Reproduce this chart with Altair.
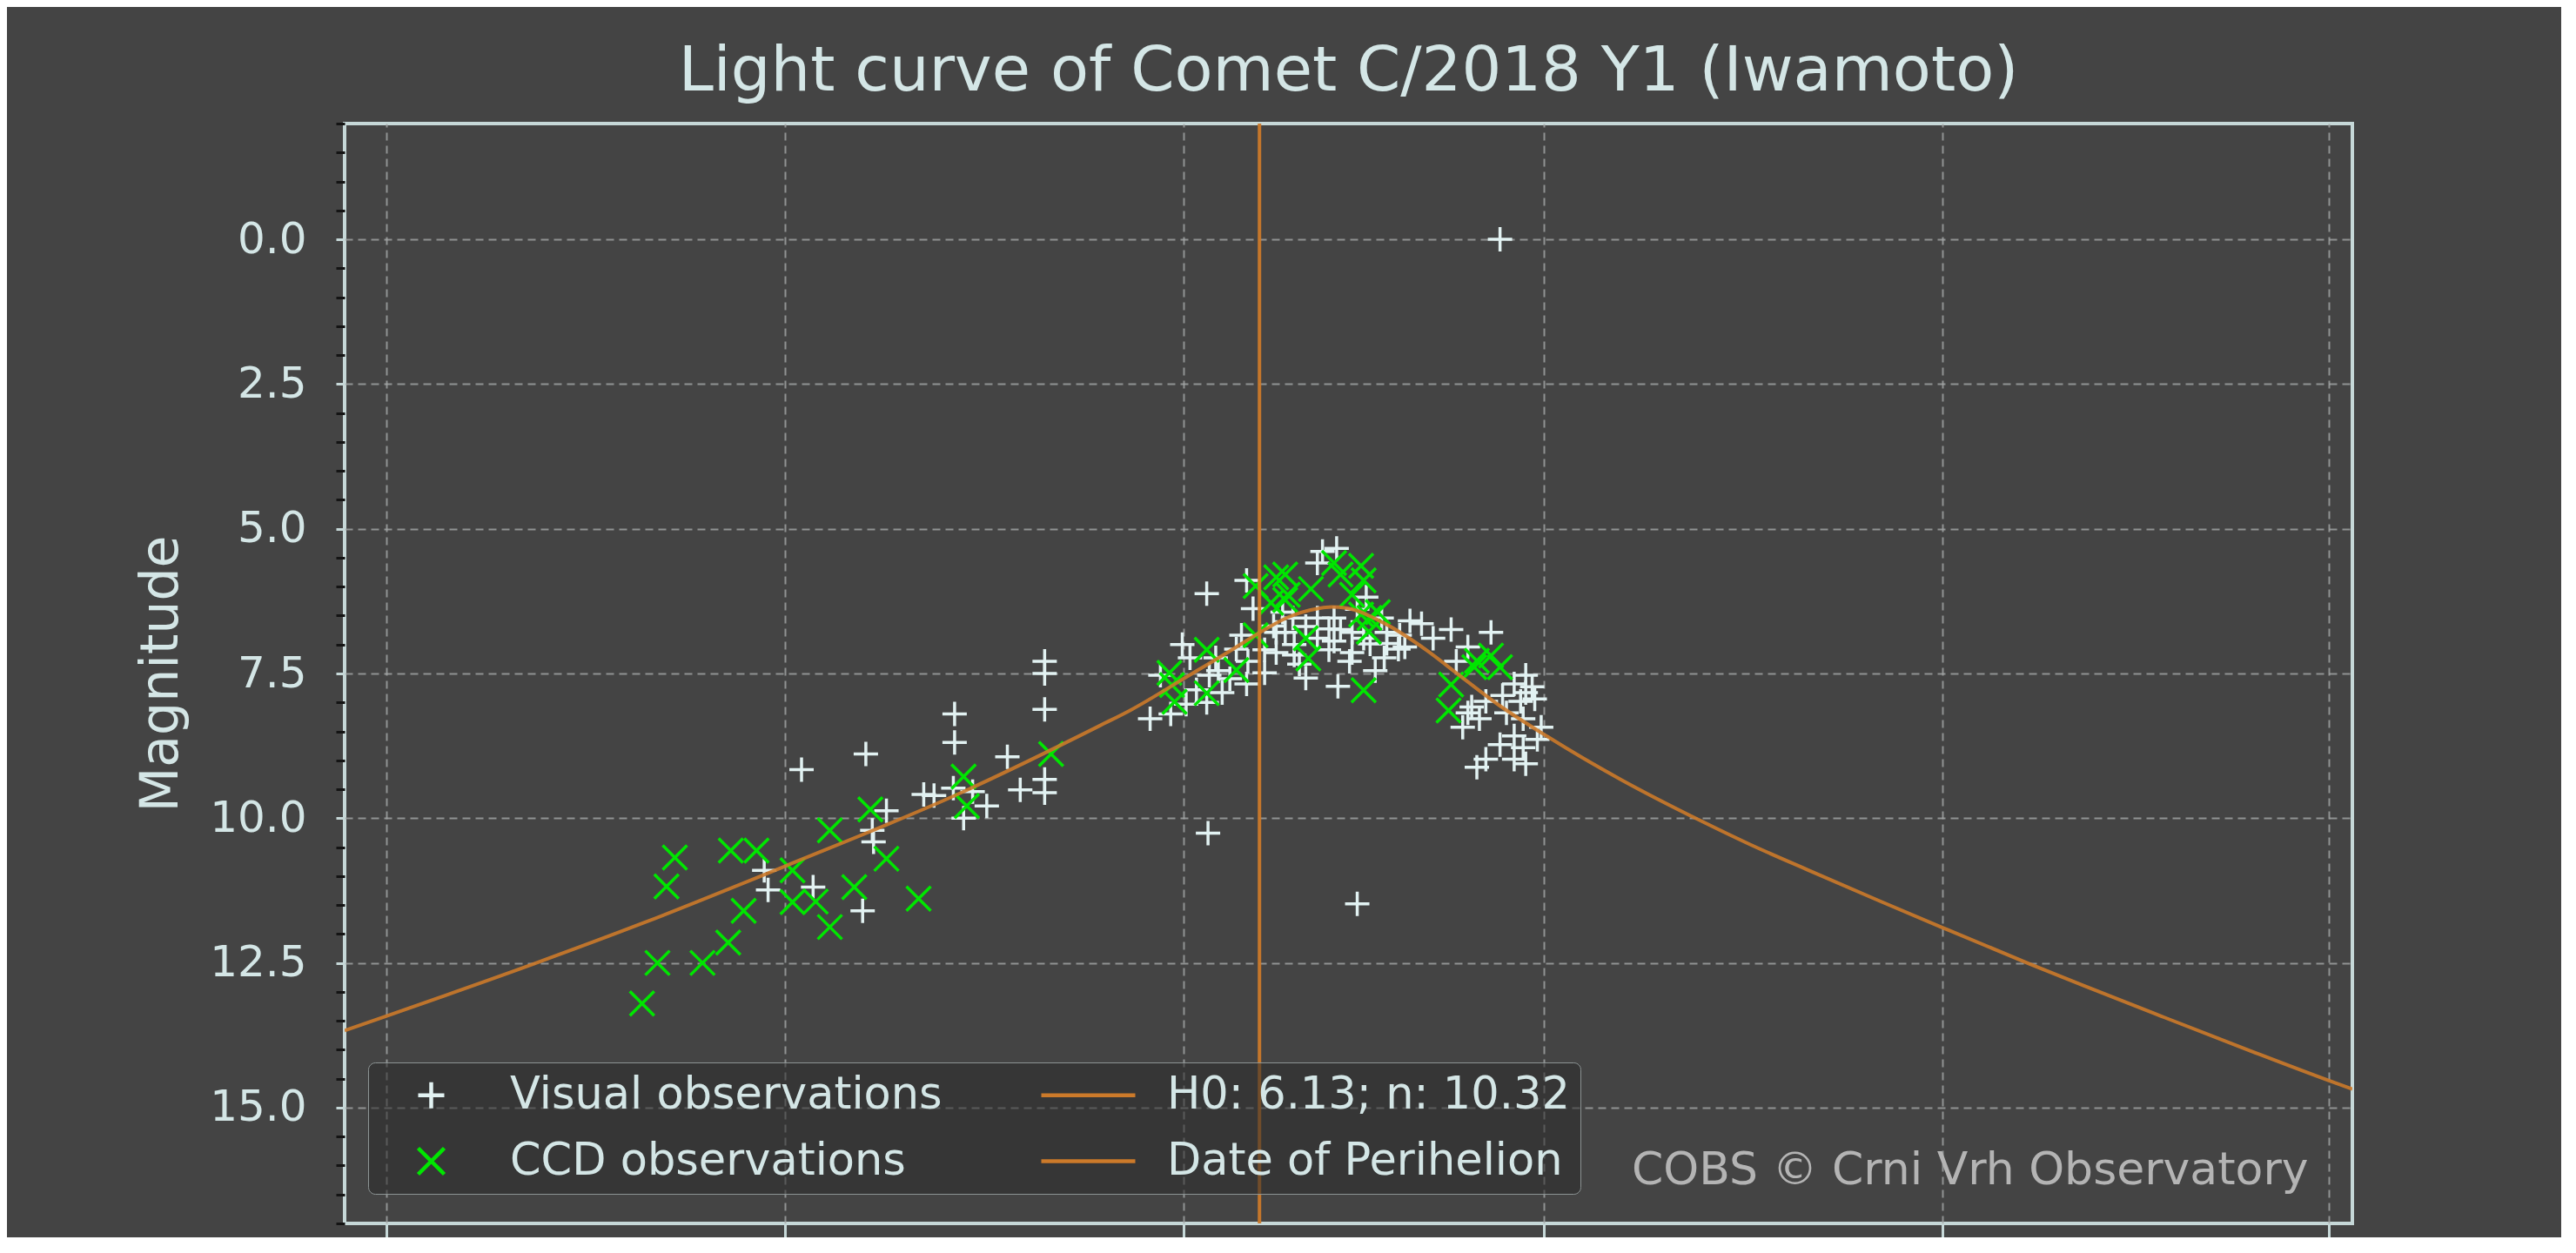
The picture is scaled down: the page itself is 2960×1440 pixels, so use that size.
import altair as alt
import pandas as pd

# ---------------- data ----------------
BASE = pd.Timestamp("2019-01-01")  # day offsets below are days after 2019-01-01

visual_day = [-1.6, -1.3, 1.3, 2.2, 6.05, 6.3, 6.8, 6.9, 7.9, 10.8, 11.6, 13.1, 13.2, 13.2,
              13.9, 14.6, 15.7, 17.3, 18.3, 20.2, 20.2, 20.2, 20.2, 20.2,
              28.4, 29.2, 30.0, 30.9, 32.8, 32.8, 32.9, 33.5, 33.7, 35.1, 35.5, 35.9, 35.9,
              36.4, 37.3, 37.3, 38.0, 38.9, 39.6, 39.6, 40.5, 40.5, 41.4, 41.4, 41.8, 42.3,
              42.7, 42.9, 43.0, 43.2, 43.9, 44.1, 44.5, 45.0, 45.2, 46.4, 46.6, 46.8, 47.7,
              48.2, 48.6, 49.5, 50.4, 51.8, 52.2, 53.1, 54.9, 55.6,
              52.7, 53.1, 53.4, 53.8, 54.0, 54.5, 54.5, 55.6, 55.8, 56.1, 56.7, 56.7, 56.7,
              57.2, 57.4, 57.4, 57.6, 57.6, 57.6, 58.1, 58.3, 58.8, 58.5,
              38.2, 39.5, 41.4, 42.7, 44.1, 45.5, 46.8, 42.3, 40.0, 38.2, 38.7, 44.5, 47.8,
              36.0, 34.6, 45.9, 31.5, 32.0, 34.0, 31.2, 33.0]
visual_mag = [10.90, 11.24, 9.16, 11.19, 11.60, 8.89, 10.21, 10.41, 9.87, 9.59, 9.61, 9.48, 8.20, 8.69,
              10.00, 9.54, 9.79, 8.94, 9.51, 7.29, 7.50, 8.12, 9.33, 9.56,
              8.28, 7.53, 8.20, 7.00, 6.12, 8.00, 10.26, 7.23, 7.45, 7.08, 6.84, 5.89, 7.68,
              6.38, 7.09, 7.49, 6.68, 6.79, 7.00, 7.18, 6.69, 7.58, 5.59, 6.89, 5.39, 6.73,
              6.54, 5.34, 7.72, 6.74, 7.29, 7.14, 11.48, 6.89, 6.18, 6.54, 7.23, 6.98, 7.08,
              7.04, 6.59, 6.64, 6.89, 6.74, 7.29, 7.04, 6.79, 0.00,
              8.43, 8.18, 8.08, 9.12, 8.28, 7.98, 8.98, 8.73, 7.88, 8.18, 7.68, 8.58, 8.98,
              7.98, 8.28, 8.78, 7.53, 7.83, 9.06, 7.73, 7.94, 8.43, 8.64,
              6.79, 6.54, 6.54, 6.94, 6.79, 6.99, 6.79, 7.09, 7.34, 7.14, 6.44, 6.39, 6.84,
              7.29, 7.59, 7.45, 7.23, 7.78, 7.83, 8.03, 7.53]

ccd_day = [-11.1, -9.9, -9.2, -8.55, -6.4, -4.4, -4.2, -3.2, -2.2, 0.6, 0.6, 2.4, 3.5, 3.5,
           5.4, 6.65, 7.9, 10.4, 13.9, 14.15, 20.7,
           29.9, 30.1, 30.3, 32.8, 32.8, 35.1, 36.6, 36.6, 37.8, 38.2, 38.9, 38.9, 39.1,
           40.5, 40.7, 40.9, 42.7, 43.2, 44.1, 44.8, 44.8, 45.0, 45.0, 45.4, 45.45, 46.1,
           51.6, 51.8, 53.6, 53.8, 54.9, 55.6]
ccd_mag = [13.20, 12.50, 11.18, 10.68, 12.50, 12.15, 10.56, 11.60, 10.56, 10.90, 11.45, 11.44, 10.21, 11.88,
           11.19, 9.85, 10.70, 11.39, 9.28, 9.79, 8.89,
           7.49, 7.70, 7.99, 7.09, 7.84, 7.44, 5.99, 6.84, 6.28, 5.84, 5.79, 6.23, 6.14,
           6.89, 7.24, 6.04, 5.59, 5.79, 6.14, 5.64, 6.48, 5.89, 7.79, 6.78, 6.54, 6.44,
           8.14, 7.69, 7.39, 7.28, 7.19, 7.39]

fit_day = [-34.22, -31.0, -19.5, -11.0, 0.0, 13.9, 24.5, 26.9, 31.45, 34.4, 36.87, 39.1,
           41.4, 42.5, 43.66, 46.58, 49.97, 52.2, 55.6, 59.0, 62.0, 65.0, 71.07, 75.0,
           79.7, 85.0, 90.0, 96.7, 101.0, 107.0, 114.0, 120.0, 121.86]
fit_mag = [13.67, 13.42, 12.515, 11.81, 10.83, 9.54, 8.40, 8.13, 7.53, 7.14, 6.80, 6.53,
           6.38, 6.35, 6.37, 6.63, 7.11, 7.49, 8.06, 8.55, 8.955, 9.333, 10.03, 10.45,
           10.91, 11.42, 11.89, 12.51, 12.895, 13.42, 14.025, 14.53, 14.68]

perihelion_day = [36.9]
credit_day = [118.45]
credit_mag = [16.32]
credit_text = ["COBS \u00a9 Crni Vrh Observatory"]

series_names = ["Visual observations", "CCD observations", "H0: 6.13; n: 10.32", "Date of Perihelion"]
y_ticks = [-2.0 + 0.5 * i for i in range(39)]
x_ticks = [(2018, 12), (2019, 1), (2019, 2), (2019, 3), (2019, 4), (2019, 5)]

# ---------------- styling ----------------
BG = "#444444"
FRAME = "#c6d8d8"
TEXT = "#d4e6e6"
GRID = "#a4a8a8"
ORANGE = "#cc7a2a"
GREEN = "#00e600"
WHITE = "#e2f2f2"
FONT = "DejaVu Sans"

PLUS = "M-1,0L1,0M0,-1L0,1"
XMARK = "M-1,-1L1,1M-1,1L1,-1"
LINE = "M-3.6,0L3.6,0"


def to_dates(days):
    return [(BASE + pd.Timedelta(days=d)).strftime("%Y-%m-%dT%H:%M:%S") for d in days]


obs = pd.DataFrame({
    "date": to_dates(visual_day) + to_dates(ccd_day),
    "mag": visual_mag + ccd_mag,
    "series": [series_names[0]] * len(visual_day) + [series_names[1]] * len(ccd_day),
})
fit = pd.DataFrame({"date": to_dates(fit_day), "mag": fit_mag})
peri = pd.DataFrame({"date": to_dates(perihelion_day)})
credit = pd.DataFrame({"date": to_dates(credit_day), "mag": credit_mag, "label": credit_text})

x_scale = alt.Scale(domain=[alt.DateTime(year=2018, month=11, date=27, hours=18, minutes=43),
                            alt.DateTime(year=2019, month=5, date=2, hours=20, minutes=38)])
y_scale = alt.Scale(domain=[-2, 17], reverse=True, nice=False, zero=False)

MAJOR = "abs(datum.value % 2.5) < 1e-9"

x_axis = alt.Axis(
    values=[alt.DateTime(year=y, month=m, date=1) for y, m in x_ticks],
    labels=False, title=None, domain=False,
    ticks=True, tickSize=20, tickWidth=3, tickColor=FRAME,
    grid=True, gridColor=GRID, gridDash=[9, 6], gridWidth=2, gridOpacity=0.8,
)
y_axis = alt.Axis(
    values=y_ticks,
    labelExpr="abs(datum.value % 2.5) < 1e-9 ? format(datum.value, '.1f') : ''",
    labelFontSize=50, labelFont=FONT, labelColor=TEXT, labelPadding=34,
    domain=False, ticks=True, tickSize=10, tickWidth=3,
    tickColor={"condition": {"test": MAJOR, "value": FRAME}, "value": "#141414"},
    grid=True, gridColor=GRID, gridDash=[9, 6], gridWidth=2,
    gridOpacity={"condition": {"test": MAJOR, "value": 0.8}, "value": 0},
    title="Magnitude", titleFontSize=60, titleFont=FONT, titleFontWeight="normal",
    titleColor=TEXT, titleAngle=270, titleX=-211, titleY=632,
    titleAlign="center", titleBaseline="middle",
)

X = alt.X("date:T", scale=x_scale, axis=x_axis)
Y = alt.Y("mag:Q", scale=y_scale, axis=y_axis)

legend = alt.Legend(
    title=None, orient="none", legendX=27, legendY=1079, columns=2,
    columnPadding=104, rowPadding=24, padding=12,
    labelFontSize=51, labelFont=FONT, labelColor=TEXT, labelOffset=65, labelLimit=2000,
    symbolSize=900, symbolStrokeWidth=4.5, symbolOffset=35,
    fillColor="rgba(44,44,44,0.55)", strokeColor="#8c9494", cornerRadius=8,
)

points = alt.Chart(obs).mark_point(filled=False, strokeWidth=3.5, size=784, opacity=1).encode(
    x=X,
    y=Y,
    color=alt.Color("series:N", scale=alt.Scale(domain=series_names, range=[WHITE, GREEN, ORANGE, ORANGE]),
                    legend=legend),
    shape=alt.Shape("series:N", scale=alt.Scale(domain=series_names, range=[PLUS, XMARK, LINE, LINE]),
                    legend=legend),
)

curve = alt.Chart(fit).mark_line(color=ORANGE, strokeWidth=4, interpolate="monotone", clip=True,
                                 opacity=0.9).encode(x=X, y=Y)

rule = alt.Chart(peri).mark_rule(color=ORANGE, strokeWidth=4, opacity=0.95).encode(x=X)

note = alt.Chart(credit).mark_text(align="right", baseline="alphabetic", fontSize=52, font=FONT,
                                   color="#b4b4b4").encode(x=X, y=Y, text="label:N")

chart = alt.layer(points, curve, rule, note).properties(
    width=2307, height=1264,
    title=alt.TitleParams("Light curve of Comet C/2018 Y1 (Iwamoto)", fontSize=72, font=FONT,
                          fontWeight="normal", color=TEXT, anchor="middle", offset=34, dy=70,
                          baseline="alphabetic"),
    autosize=alt.AutoSizeParams(type="none"),
    padding={"left": 388, "top": 134, "right": 240, "bottom": 16},
).configure(
    background=BG, font=FONT,
).configure_view(
    stroke=FRAME, strokeWidth=4,
)

chart.save("out.html", embed_options={"renderer": "svg", "actions": False})
